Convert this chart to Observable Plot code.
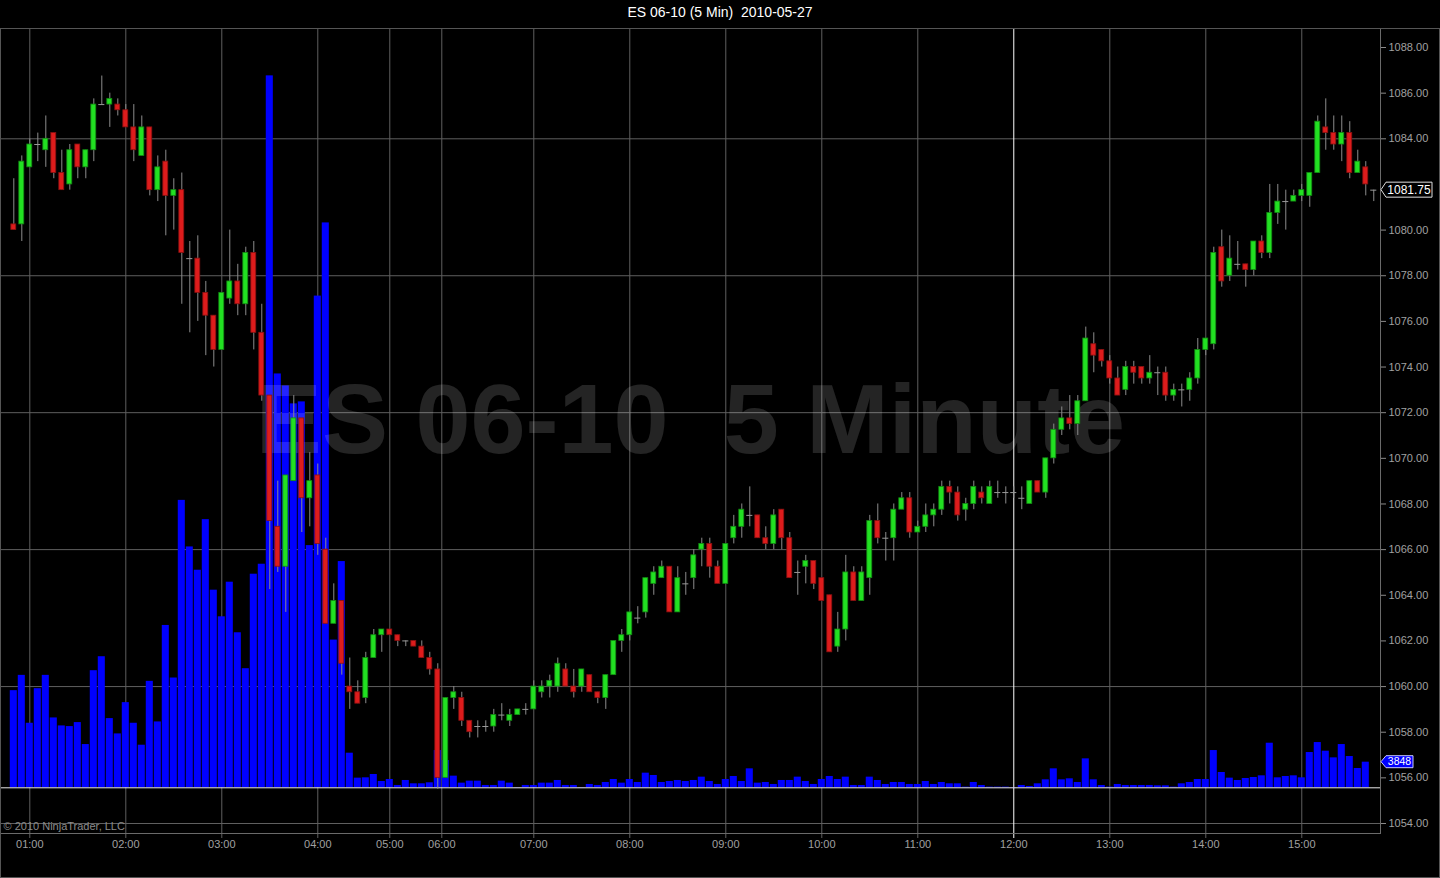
<!DOCTYPE html>
<html><head><meta charset="utf-8">
<script src="https://cdn.jsdelivr.net/npm/d3@7"></script>
<script src="https://cdn.jsdelivr.net/npm/@observablehq/plot@0.6"></script>
<style>
html,body{margin:0;padding:0;background:#000;}
#title{height:28px;font:14px "Liberation Sans",Arial,sans-serif;line-height:25px;text-align:center;color:#fff;white-space:pre;}
#chart{position:relative;width:1440px;height:850px;}
#chart svg{position:absolute;left:0;top:0;white-space:pre;}
</style></head><body>
<div id="title">ES 06-10 (5 Min)  2010-05-27</div>
<div id="chart"></div>
<script>
// ---------- data ----------
const firstTime = "00:50";
const lastTime = "15:45";
const missingTimes = ["04:20","04:25","04:30","05:05","05:15","05:25","05:35","05:45","06:00"];
const hourLabels = ["01:00","02:00","03:00","04:00","05:00","06:00","07:00","08:00","09:00","10:00","11:00","12:00","13:00","14:00","15:00"];
const priceTicks = [1054,1056,1058,1060,1062,1064,1066,1068,1070,1072,1074,1076,1078,1080,1082,1084,1086,1088];
const gridPrices = [1054,1060,1066,1072,1078,1084];

const opens = [1080.25,1080.25,1082.75,1083.75,1083.5,1084.25,1082.5,1082,1083.75,1082.75,
1083.5,1085.5,1085.5,1085.5,1085.25,1084.5,1083.25,1084.5,1081.75,1083,
1081.5,1081.75,1078.75,1078.75,1077.25,1076.25,1074.75,1077,1077.75,1076.75,
1079,1075.5,1072.75,1067,1065.25,1069,1071.75,1068.25,1069.25,1066,
1062.75,1063.75,1060,1059.75,1059.5,1061.25,1062.25,1062.5,1062.25,1062,
1062,1061.75,1061.25,1060.75,1056,1059.5,1059.5,1058.5,1058.25,1058.25,
1058.25,1058.75,1058.5,1058.75,1059,1059,1059.75,1060,1060,1060.75,
1060,1060,1060.5,1059.75,1059.5,1060.5,1062,1062.25,1063,1063.25,
1064.5,1064.75,1065.25,1063.25,1064.5,1064.75,1066,1066.25,1065.25,1064.5,
1066.5,1067,1067.5,1067.5,1066.5,1066.25,1067.75,1066.5,1065,1065.25,
1065.5,1064.75,1064,1061.75,1062.5,1065,1063.75,1064.75,1067.25,1066.5,
1066.5,1067.75,1068.25,1066.75,1067,1067.5,1067.75,1068.75,1068.5,1067.75,
1068,1068.5,1068,1068.5,1068.5,1068.5,1068.25,1068,1069,1068.5,
1070,1071.25,1071.75,1071.5,1072.5,1075,1074.75,1074.25,1073.5,1073,
1074,1074,1073.5,1073.75,1073.75,1072.75,1073,1073,1073.5,1074.75,
1075,1079.25,1078,1078.5,1078.5,1078.25,1079.5,1079,1080.75,1081.25,
1081.25,1081.5,1081.5,1082.5,1084.5,1084.25,1083.75,1084.25,1082.5,1082.75,
1081.75];
const highs = [1082.25,1083.25,1084,1084.25,1085,1084.25,1083.5,1083.75,1083.75,1083.5,
1085.75,1086.75,1086,1085.75,1085.5,1085.5,1085,1084.5,1083.25,1083.5,
1082.25,1082.5,1079.5,1079.75,1077.75,1076.25,1077.25,1080,1078.5,1079.25,
1079.5,1076.75,1072.75,1069,1069.25,1072.75,1071.75,1070.25,1069.75,1066.5,
1064.5,1063.75,1061.25,1060.25,1061.5,1062.5,1062.5,1062.5,1062.25,1062,
1062,1062,1061.5,1061,1059.5,1060,1059.75,1058.5,1058.5,1058.5,
1059,1059.25,1059,1059,1059.25,1060.25,1060.25,1060.5,1061.25,1061,
1060.75,1060.75,1060.5,1059.75,1060.5,1062,1062.5,1063.25,1063.5,1064.75,
1065.25,1065.5,1065.25,1065.25,1065,1066,1066.5,1066.5,1065.5,1066.25,
1067.5,1068,1068.75,1067.5,1067,1067.75,1067.75,1066.75,1065.5,1065.75,
1065.5,1064.75,1064,1063.25,1065.75,1065.25,1065.25,1067.5,1068,1066.75,
1068,1068.5,1068.5,1067.25,1068,1068,1069,1069,1068.75,1068.25,
1069,1068.75,1069,1069,1068.75,1068.75,1068.75,1069,1069,1070,
1071.5,1072.25,1072.75,1072.75,1075.75,1075.5,1074.75,1074.5,1074,1074.25,
1074.25,1074,1074.5,1074,1074,1073.25,1073.25,1073.75,1075.25,1075.25,
1079.25,1080,1079.75,1079.5,1078.5,1079.5,1079.75,1082,1082,1081.75,
1081.75,1082,1082.5,1085,1085.75,1085,1085,1084.75,1083.5,1083,
1081.75];
const lows = [1080,1079.5,1082.75,1083,1082.75,1082.25,1081.75,1081.75,1082.25,1082.25,
1083,1085.5,1084.5,1085,1084.5,1083,1083.25,1081.5,1081.25,1079.75,
1080,1076.75,1075.5,1076,1074.5,1074,1074.75,1076.75,1076.25,1076.25,
1074.75,1072.5,1064.25,1065,1063.25,1069,1066.75,1067,1065.75,1062.75,
1062.75,1060.5,1059,1059.25,1059.25,1061.25,1061.5,1062.25,1061.75,1061.75,
1061.75,1061.25,1060.5,1055.5,1056,1059,1058.25,1057.75,1057.75,1058,
1058,1058.5,1058.25,1058.75,1058.75,1059,1059.5,1059.5,1059.75,1060,
1059.5,1059.75,1059.75,1059.25,1059,1060.5,1061.5,1062,1062.75,1063,
1064,1064.75,1063.25,1063.25,1064,1064.25,1065.25,1064.75,1064.5,1064.5,
1066.25,1066.5,1067,1066.5,1066,1066,1066,1064.75,1064,1064.5,
1064.25,1063.75,1061.5,1061.5,1062,1063.75,1063.75,1064,1066.25,1065.5,
1065.5,1067.75,1066.5,1066.75,1066.75,1067,1067.5,1068,1067.25,1067.25,
1067.75,1068,1068,1068.25,1068,1068.25,1067.75,1068,1068.5,1068.25,
1069.75,1071,1071.25,1071,1072.5,1073.75,1074,1073.25,1072.75,1072.75,
1073.25,1073.25,1073.25,1072.75,1072.5,1072.5,1072.25,1072.5,1073.25,1074.5,
1074.75,1077.5,1077.75,1078.25,1077.5,1078,1078.75,1078.75,1080.25,1080,
1081.25,1081.25,1081,1082.5,1083.5,1083.5,1083,1082.25,1082.5,1081.5,
1081.25];
const closes = [1080,1083,1083.75,1083.75,1084,1082.5,1081.75,1083.5,1082.75,1083.5,
1085.5,1085.5,1085.75,1085.25,1084.5,1083.5,1084.5,1081.75,1082.75,1081.5,
1081.75,1079,1078.75,1077.25,1076.25,1074.75,1077.25,1077.75,1076.75,1079,
1075.5,1072.75,1067.25,1065.25,1069.25,1071.75,1068.25,1069,1066.25,1062.75,
1063.75,1061,1059.75,1059.25,1061.25,1062.25,1062.5,1062.25,1062,1062,
1061.75,1061.25,1060.75,1056,1059.5,1059.75,1058.5,1058,1058.25,1058.25,
1058.75,1058.75,1058.75,1059,1059,1060,1060,1060.25,1061,1060,
1059.75,1060.75,1059.75,1059.5,1060.5,1062,1062.25,1063.25,1063,1064.75,
1065,1065.25,1063.25,1064.75,1064.5,1065.75,1066.25,1065.25,1064.5,1066.25,
1067,1067.75,1067.5,1066.5,1066.25,1067.5,1066.5,1064.75,1065,1065.5,
1064.5,1063.75,1061.5,1062.5,1065,1063.75,1065,1067.25,1066.5,1066.5,
1067.75,1068.25,1066.75,1067,1067.5,1067.75,1068.75,1068.5,1067.5,1068,
1068.75,1068.25,1068.75,1068.5,1068.5,1068.5,1068.25,1069,1068.5,1070,
1071.25,1071.75,1071.5,1072.5,1075.25,1074.5,1074.25,1073.5,1072.75,1074,
1073.75,1073.5,1073.75,1073.75,1072.75,1073,1073,1073.5,1074.75,1075.25,
1079,1077.75,1078.75,1078.5,1078.25,1079.5,1079,1080.75,1081.25,1081.25,
1081.5,1081.75,1082.5,1084.75,1084.25,1083.75,1084.25,1082.5,1083,1082,
1081.75];
// volume (the forming last bar has no volume value yet)
const volumes = [14600,16900,9700,14900,16900,10500,9300,9200,9800,6500,
17600,19700,10400,8100,12800,9700,6400,16000,9900,24400,
16500,43200,36200,32700,40300,29700,25700,30900,23300,17900,
32100,33600,107000,62200,60400,57700,58000,36400,73900,84900,
22200,34000,5200,1450,1500,2000,950,1250,350,1100,
600,600,750,5600,4100,1750,700,1000,1000,350,
350,1000,700,50,350,350,700,700,1100,350,
350,50,500,350,800,1250,700,1250,800,2200,
1850,800,950,1100,950,1100,1600,950,500,1250,
1700,950,2850,700,800,500,1100,1100,1600,950,
500,1250,1700,1250,1600,350,350,1600,1100,500,
800,800,500,500,950,500,800,600,600,100,
800,350,100,100,100,50,350,200,600,1200,
2850,1200,1350,800,4350,1200,350,100,500,350,
350,350,350,300,300,100,600,800,1250,1250,
5600,2300,1450,1100,1400,1550,1800,6700,1500,1700,
1800,1500,5300,6800,5500,4500,6500,4700,2900,3848];

// ---------- derived ----------
const toMin = s => +s.slice(0, 2) * 60 + +s.slice(3);
const fmt = m => String(Math.floor(m / 60)).padStart(2, "0") + ":" + String(m % 60).padStart(2, "0");
const times = [];
for (let m = toMin(firstTime); m <= toMin(lastTime); m += 5) {
  const t = fmt(m);
  if (!missingTimes.includes(t)) times.push(t);
}
const bars = times.map((t, i) => ({i, t, o: opens[i], h: highs[i], l: lows[i], c: closes[i]}));
const volBars = volumes.map((v, i) => ({i, v}));
// hour ticks: at the bar of that time, or interpolated between neighbouring bars
const hourTicks = hourLabels.map(lab => {
  const m = toMin(lab);
  const j = times.indexOf(lab);
  if (j >= 0) return {pos: j, lab};
  const k = times.findIndex(t => toMin(t) > m);
  const m0 = toMin(times[k - 1]), m1 = toMin(times[k]);
  return {pos: k - 1 + (m - m0) / (m1 - m0), lab};
});
const labByPos = new Map(hourTicks.map(d => [d.pos, d.lab]));
const lastClose = closes.at(-1);
// the last-price flag hides the price label it covers
const shownPriceTicks = priceTicks.filter(p => Math.abs(p - lastClose) > 0.5);

const W = 1440, H = 850;
const xDomain = [-1.6625, times.length - 0.16];
const yDomain = [1053.562, 1088.833];
const grid = "#5f5f5f";
const baseStyle = {background: "transparent", overflow: "visible", fontFamily: "'Liberation Sans', Arial, sans-serif", fontSize: "11px", color: "#a0a0a0"};

// ---------- layer 1: grid, frame, axes ----------
const gridPlot = Plot.plot({
  width: W, height: H, marginLeft: 0, marginRight: 60, marginTop: 0, marginBottom: 45,
  style: {...baseStyle, background: "#000"},
  x: {domain: xDomain, axis: null, label: null},
  y: {domain: yDomain, axis: null, label: null},
  marks: [
    Plot.ruleY(gridPrices, {stroke: grid}),
    Plot.ruleX(hourTicks, {x: "pos", stroke: d => d.lab === "12:00" ? "#ffffff" : grid, insetBottom: -5}),
    Plot.frame({stroke: "#6a6a6a"}),
    Plot.axisY(shownPriceTicks, {anchor: "right", label: null, tickSize: 5, tickPadding: 3, tickFormat: d => d.toFixed(2), stroke: "#8a8a8a", fill: "#a0a0a0", fontSize: 11}),
    Plot.axisX(hourTicks.map(d => d.pos), {anchor: "bottom", label: null, tickSize: 0, tickPadding: 7, tickFormat: d => labByPos.get(d), fill: "#a0a0a0", fontSize: 11})
  ]
});

// ---------- layer 2: volume ----------
const volPlot = Plot.plot({
  width: W, height: H, marginLeft: 0, marginRight: 60, marginTop: 27.4, marginBottom: 90.7,
  style: baseStyle,
  x: {domain: xDomain, axis: null, label: null},
  y: {domain: [0, 110000], axis: null, label: null},
  marks: [
    Plot.rectY(volBars, {x1: d => d.i - 0.44, x2: d => d.i + 0.44, y: "v", fill: "#0000ff"}),
    Plot.ruleY([0], {stroke: "#e8e8e8"})
  ]
});

// ---------- layer 3: watermark, candles ----------
const up = d => d.c > d.o;
const pricePlot = Plot.plot({
  width: W, height: H, marginLeft: 0, marginRight: 60, marginTop: 0, marginBottom: 45,
  style: baseStyle,
  x: {domain: xDomain, axis: null, label: null},
  y: {domain: yDomain, axis: null, label: null},
  marks: [
    Plot.text(["ES 06-10  5 Minute"], {frameAnchor: "middle", dy: -10, fontSize: 99, fontWeight: "bold", fill: "#ffffff", fillOpacity: 0.14}),
    Plot.ruleX(bars, {x: "i", y1: "l", y2: "h", stroke: "#8c8c8c", strokeWidth: 1}),
    Plot.rect(bars.filter(d => d.o !== d.c), {
      x1: d => d.i - 0.31, x2: d => d.i + 0.31, y1: "o", y2: "c",
      fill: d => up(d) ? "#22e022" : "#dd1c1c",
      stroke: d => up(d) ? "#128a12" : "#8a1010", strokeWidth: 0.8
    }),
    Plot.ruleY(bars.filter(d => d.o === d.c), {x1: d => d.i - 0.38, x2: d => d.i + 0.38, y: "o", stroke: "#9a9a9a"}),
    Plot.text(["© 2010 NinjaTrader, LLC"], {frameAnchor: "bottom-left", dx: 3, dy: -4, fontSize: 11, fill: "#8a8a8a"})
  ]
});

const chart = document.getElementById("chart");
chart.append(gridPlot, volPlot, pricePlot);

// ---------- value flags on the right axis ----------
const axisX = 1380;
const g = d3.select(pricePlot).append("g");
function flag(y, text, fill, stroke, w, h, fs) {
  const x0 = axisX + 1, x1 = x0 + 5, x2 = x1 + w;
  g.append("path")
    .attr("d", `M${x0},${y}L${x1},${y - h / 2}H${x2}V${y + h / 2}H${x1}Z`)
    .attr("fill", fill).attr("stroke", stroke).attr("stroke-width", 1);
  g.append("text").attr("x", x1 + w / 2).attr("y", y).attr("dy", "0.36em")
    .attr("text-anchor", "middle").attr("fill", "#fff")
    .attr("font-family", "'Liberation Sans', Arial, sans-serif").attr("font-size", fs).text(text);
}
flag(pricePlot.scale("y").apply(lastClose), lastClose.toFixed(2), "#000", "#e0e0e0", 46, 15, 12);
flag(volPlot.scale("y").apply(volumes.at(-1)), String(volumes.at(-1)), "#0000ff", "#c8c8ff", 27, 12, 10.5);

// outer border
d3.select(pricePlot).append("rect").attr("x", 0.5).attr("y", 0.5).attr("width", W - 1).attr("height", H - 1)
  .attr("fill", "none").attr("stroke", "#555");
</script>
</body></html>
